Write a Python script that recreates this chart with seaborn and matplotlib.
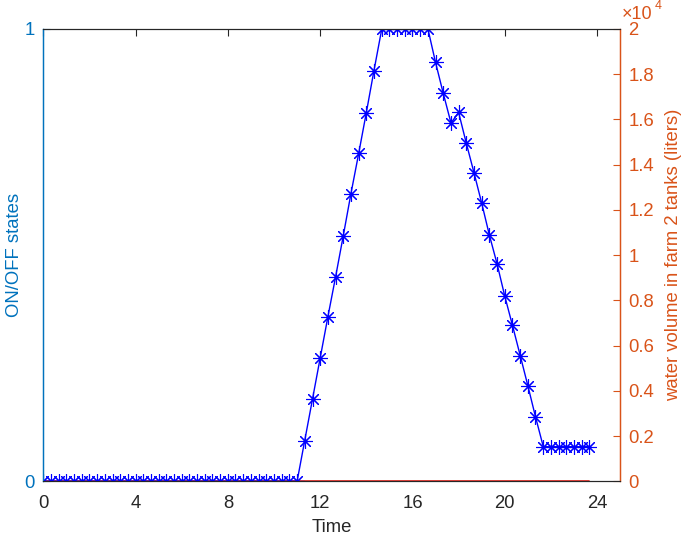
import numpy as np
import pandas as pd
import matplotlib
matplotlib.use("Agg")
import matplotlib.pyplot as plt
import seaborn as sns

# ---- data ----
time_hours = [
    0.00, 0.33, 0.67, 1.00, 1.33, 1.67, 2.00, 2.33, 2.67, 3.00, 3.33, 3.67,
    4.00, 4.33, 4.67, 5.00, 5.33, 5.67, 6.00, 6.33, 6.67, 7.00, 7.33, 7.67,
    8.00, 8.33, 8.67, 9.00, 9.33, 9.67, 10.00, 10.33, 10.67, 11.00, 11.33, 11.67,
    12.00, 12.33, 12.67, 13.00, 13.33, 13.67, 14.00, 14.33, 14.67, 15.00, 15.33, 15.67,
    16.00, 16.33, 16.67, 17.00, 17.33, 17.67, 18.00, 18.33, 18.67, 19.00, 19.33, 19.67,
    20.00, 20.33, 20.67, 21.00, 21.33, 21.67, 22.00, 22.33, 22.67, 23.00, 23.33, 23.67,
]
water_volume = [
    0, 0, 0, 0, 0, 0, 0, 0, 0, 0, 0, 0,
    0, 0, 0, 0, 0, 0, 0, 0, 0, 0, 0, 0,
    0, 0, 0, 0, 0, 0, 0, 0, 0, 0, 1800, 3650,
    5450, 7250, 9050, 10850, 12700, 14500, 16300, 18150, 20000, 20000, 20000, 20000,
    20000, 20000, 20000, 18520, 17170, 15840, 16310, 14960, 13630, 12300, 10900, 9600,
    8190, 6910, 5560, 4230, 2860, 1530, 1530, 1530, 1530, 1530, 1530, 1530,
]
on_off_state = [0] * 72

x_ticks = [0, 4, 8, 12, 16, 20, 24]
left_ticks = [0, 1]
right_ticks = [0, 2000, 4000, 6000, 8000, 10000, 12000, 14000, 16000, 18000, 20000]
right_tick_labels = ["0", "0.2", "0.4", "0.6", "0.8", "1", "1.2", "1.4", "1.6", "1.8", "2"]

df = pd.DataFrame({"Time": time_hours, "volume": water_volume, "state": on_off_state})

# ---- style ----
sns.set_style("white")
plt.rcParams["font.family"] = ["Liberation Sans", "DejaVu Sans"]
FS = 13.3
plt.rcParams["font.size"] = FS

BLUE_AX = "#0072BD"
ORANGE = "#D95319"
DARK = "#262626"

fig = plt.figure(figsize=(6.85, 5.36), dpi=100)
ax = fig.add_axes([0.0632, 0.102, 0.9053 - 0.0632, 0.946 - 0.102])
ax2 = ax.twinx()

sns.lineplot(data=df, x="Time", y="state", ax=ax, color="#e8302a", linewidth=1.3)
sns.lineplot(data=df, x="Time", y="volume", ax=ax2, color="#0000ff", linewidth=1.0,
             marker=(8, 2, 0), markersize=10.5, markeredgewidth=0.8,
             markeredgecolor="#0000ff")

ax.set_xlim(0, 25)
ax.set_ylim(0, 1)
ax2.set_ylim(0, 20000)

ax.set_xticks(x_ticks)
ax.set_yticks(left_ticks)
ax2.set_yticks(right_ticks)
ax2.set_yticklabels(right_tick_labels)

ax.set_xlabel("Time", color=DARK, fontsize=FS, labelpad=5)
ax.set_ylabel("ON/OFF states", color=BLUE_AX, fontsize=FS)
ax2.set_ylabel("water volume in farm 2 tanks (liters)", color=ORANGE, fontsize=FS)
ax.yaxis.set_label_coords(-0.036, 0.5)
ax2.yaxis.set_label_coords(1.078, 0.5)

for a in (ax, ax2):
    for s in ("top", "bottom"):
        a.spines[s].set_color(DARK)
        a.spines[s].set_linewidth(0.8)
    a.spines["left"].set_color(BLUE_AX)
    a.spines["right"].set_color(ORANGE)
    a.spines["left"].set_linewidth(0.9)
    a.spines["right"].set_linewidth(0.9)

ax.tick_params(axis="x", direction="in", length=5, width=0.8, colors=DARK,
               top=True, labelsize=FS, pad=10)
ax.tick_params(axis="y", direction="in", length=5, width=0.8, colors=BLUE_AX,
               labelsize=FS, pad=6)
ax2.tick_params(axis="y", direction="in", length=5, width=0.8, colors=ORANGE,
                labelsize=FS, pad=6)

ax2.text(1.003, 1.022, "\u00d710", transform=ax2.transAxes, color=ORANGE,
         fontsize=13, ha="left", va="baseline")
ax2.text(1.060, 1.045, "4", transform=ax2.transAxes, color=ORANGE,
         fontsize=9, ha="left", va="baseline")

ax.grid(False)
ax2.grid(False)

fig.savefig("out.png", dpi=100)
